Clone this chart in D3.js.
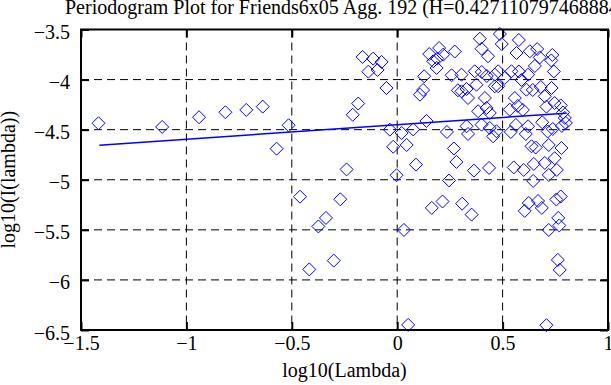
<!DOCTYPE html>
<html>
<head>
<meta charset="utf-8">
<script src="https://cdn.jsdelivr.net/npm/d3@7"></script>
<style>
  body { margin: 0; background: #fff; }
  svg { display: block; font-family: "Liberation Serif", "Times New Roman", serif; }
</style>
</head>
<body>
<div id="chart"></div>
<script>
const title = 'Periodogram Plot for Friends6x05 Agg. 192 (H=0.427110797468884)';
const xLabel = 'log10(Lambda)';
const yLabel = 'log10(I(lambda))';

const xTicks = [-1.5, -1, -0.5, 0, 0.5, 1];
const yTicks = [-6.5, -6, -5.5, -5, -4.5, -4, -3.5];

// periodogram points
const logLambda = [
  -1.417, -1.115, -0.940, -0.815, -0.716, -0.638, -0.572, -0.515, -0.461, -0.417,
  -0.374, -0.338, -0.301, -0.270, -0.240, -0.211, -0.185, -0.164, -0.137, -0.114,
  -0.093, -0.074, -0.051, -0.035, -0.019, -0.003, 0.021, 0.032, 0.045, 0.052,
  0.076, 0.089, 0.108, 0.123, 0.128, 0.139, 0.152, 0.164, 0.171, 0.187,
  0.190, 0.199, 0.215, 0.218, 0.236, 0.246, 0.258, 0.269, 0.273, 0.281,
  0.288, 0.305, 0.305, 0.336, 0.368, 0.376, 0.392, 0.400, 0.401, 0.416,
  0.424, 0.431, 0.439, 0.463, 0.463, 0.384, 0.329, 0.336, 0.400, 0.439,
  0.455, 0.364, 0.436, 0.308, 0.353, 0.487, 0.496, 0.329, 0.425, 0.577,
  0.566, 0.629, 0.479, 0.510, 0.542, 0.577, 0.621, 0.613, 0.479, 0.558,
  0.572, 0.596, 0.534, 0.471, 0.539, 0.563, 0.621, 0.610, 0.637, 0.553,
  0.600, 0.645, 0.624, 0.605, 0.590, 0.643, 0.664, 0.676, 0.736, 0.731,
  0.743, 0.653, 0.681, 0.700, 0.732, 0.747, 0.776, 0.787, 0.795, 0.781,
  0.800, 0.688, 0.714, 0.738, 0.657, 0.719, 0.779, 0.648, 0.700, 0.757,
  0.719, 0.668, 0.686, 0.755, 0.776, 0.764, 0.769, 0.719, 0.762, 0.771,
  0.708, 0.708, 0.747
];
const logI = [
  -4.436, -4.473, -4.376, -4.326, -4.303, -4.270, -4.690, -4.456, -5.169, -5.895,
  -5.466, -5.381, -5.807, -5.195, -4.897, -4.351, -4.239, -3.774, -3.921, -3.791,
  -3.904, -3.824, -4.084, -4.500, -4.671, -4.955, -4.533, -5.501, -4.653, -6.449,
  -4.498, -4.849, -4.151, -4.104, -3.967, -4.413, -3.745, -5.281, -3.817, -3.884,
  -3.791, -3.685, -5.217, -3.751, -4.523, -5.007, -3.957, -4.688, -3.720, -4.822,
  -4.107, -3.951, -4.117, -4.184, -3.917, -4.051, -3.592, -3.692, -3.924, -4.184,
  -4.283, -3.767, -4.333, -3.951, -4.067, -4.316, -4.466, -4.543, -4.450, -4.483,
  -4.566, -4.909, -4.882, -5.239, -5.348, -3.545, -3.645, -4.094, -3.964, -3.605,
  -3.735, -3.718, -3.917, -3.984, -3.917, -3.919, -3.951, -4.101, -4.067, -4.184,
  -4.263, -4.303, -4.300, -4.516, -4.523, -4.453, -4.466, -4.543, -4.666, -4.877,
  -4.902, -5.012, -5.232, -5.311, -4.004, -4.104, -3.695, -3.779, -3.754, -3.809,
  -3.919, -3.864, -4.074, -4.167, -4.084, -4.234, -4.258, -4.328, -4.383, -4.463,
  -4.433, -4.426, -4.518, -4.493, -4.678, -4.653, -4.683, -4.842, -4.832, -4.902,
  -4.952, -5.212, -5.281, -5.197, -5.167, -5.381, -5.456, -5.501, -5.800, -5.900,
  -6.452, -4.270, -4.785
];

// least squares fit line ends
const fitX = [-1.413, 0.800];
const fitY = [-4.655, -4.335];

const width = 611;
const height = 385;
const margin = { top: 29.5, right: 3, bottom: 55, left: 81 };
const innerW = width - margin.left - margin.right;
const innerH = height - margin.top - margin.bottom;
const fontSize = '20px';

const svg = d3.select('#chart').append('svg')
  .attr('width', width)
  .attr('height', height);

const g = svg.append('g')
  .attr('transform', `translate(${margin.left},${margin.top})`);

const x = d3.scaleLinear().domain([-1.5, 1]).range([0, innerW]);
const y = d3.scaleLinear().domain([-6.5, -3.5]).range([innerH, 0]);
const fmt = d3.format('~g');

// dashed grid
g.append('g')
  .selectAll('line')
  .data(xTicks.slice(1, -1))
  .join('line')
  .attr('x1', d => x(d)).attr('x2', d => x(d))
  .attr('y1', 0).attr('y2', innerH)
  .attr('stroke', '#000')
  .attr('stroke-dasharray', '8,5');

g.append('g')
  .selectAll('line')
  .data(yTicks.slice(1, -1))
  .join('line')
  .attr('x1', 0).attr('x2', innerW)
  .attr('y1', d => y(d)).attr('y2', d => y(d))
  .attr('stroke', '#000')
  .attr('stroke-dasharray', '8,5');

// fit line
g.append('line')
  .attr('x1', x(fitX[0])).attr('y1', y(fitY[0]))
  .attr('x2', x(fitX[1])).attr('y2', y(fitY[1]))
  .attr('stroke', '#0000ff')
  .attr('stroke-width', 1.5);

// diamonds
const pts = logLambda.map((v, i) => ({ x: v, y: logI[i] }));
g.append('g')
  .selectAll('path')
  .data(pts)
  .join('path')
  .attr('transform', d => `translate(${x(d.x)},${y(d.y)})`)
  .attr('d', 'M0,-6.5L6.5,0L0,6.5L-6.5,0Z')
  .attr('fill', 'none')
  .attr('stroke', '#0000ff')
  .attr('stroke-width', 1);

// axes, ticks inside
const styleAxis = sel => {
  sel.select('.domain').remove();
  sel.selectAll('.tick line').attr('stroke', '#000').attr('stroke-width', 2);
  sel.selectAll('.tick text').attr('fill', '#000').style('font-size', fontSize)
    .style('font-family', '"Liberation Serif", "Times New Roman", serif');
};

g.append('g')
  .attr('transform', `translate(0,${innerH})`)
  .call(d3.axisBottom(x).tickValues(xTicks).tickFormat(fmt).tickSize(-8).tickPadding(6))
  .call(styleAxis);

g.append('g')
  .call(d3.axisLeft(y).tickValues(yTicks).tickFormat(fmt).tickSize(-8).tickPadding(11))
  .call(styleAxis)
  .selectAll('.tick text').attr('dy', '0.45em');

g.append('g')
  .call(d3.axisTop(x).tickValues(xTicks).tickFormat('').tickSize(-8))
  .call(styleAxis);

g.append('g')
  .attr('transform', `translate(${innerW},0)`)
  .call(d3.axisRight(y).tickValues(yTicks).tickFormat('').tickSize(-8))
  .call(styleAxis);

// frame
g.append('rect')
  .attr('width', innerW)
  .attr('height', innerH)
  .attr('fill', 'none')
  .attr('stroke', '#000')
  .attr('stroke-width', 2);

svg.append('text')
  .attr('x', 65)
  .attr('y', 14)
  .style('font-size', fontSize)
  .text(title);

svg.append('text')
  .attr('x', margin.left + innerW / 2)
  .attr('y', 377)
  .attr('text-anchor', 'middle')
  .style('font-size', fontSize)
  .text(xLabel);

svg.append('text')
  .attr('transform', `translate(15,${margin.top + innerH / 2}) rotate(-90)`)
  .attr('text-anchor', 'middle')
  .style('font-size', fontSize)
  .text(yLabel);
</script>
</body>
</html>
